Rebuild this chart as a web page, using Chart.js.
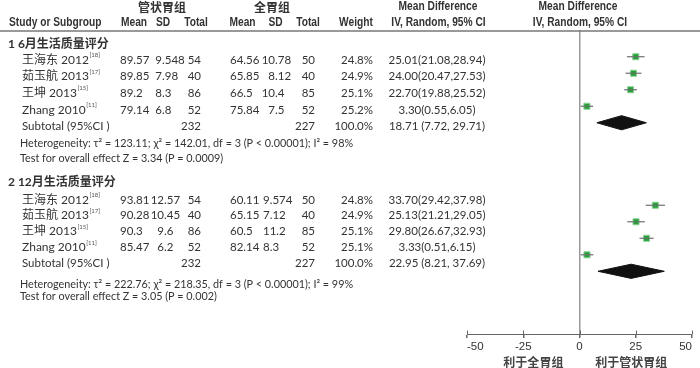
<!DOCTYPE html>
<html>
<head>
<meta charset="utf-8">
<script src="https://cdn.jsdelivr.net/npm/chart.js@4.4.1/dist/chart.umd.min.js"></script>
<style>
  html, body { margin: 0; padding: 0; background: #fff; }
  #wrap { width: 700px; height: 368px; }
</style>
</head>
<body>
<div id="wrap"><canvas id="forest" width="700" height="368"></canvas></div>
<script>
// Study labels
const studies = ['王海东 2012', '茹玉航 2013', '王坤 2013', 'Zhang 2010'];
const refs = ['[18]', '[17]', '[15]', '[11]'];
const groupTitles = ['1 6月生活质量评分', '2 12月生活质量评分'];

// 6 month scores: 管状胃组 (exp) vs 全胃组 (ctl)
const expMean6 = [89.57, 89.85, 89.2, 79.14];
const expSd6 = [9.548, 7.98, 8.3, 6.8];
const expN6 = [54, 40, 86, 52];
const ctlMean6 = [64.56, 65.85, 66.5, 75.84];
const ctlSd6 = [10.78, 8.12, 10.4, 7.5];
const ctlN6 = [50, 40, 85, 52];
const weight6 = [24.8, 24.9, 25.1, 25.2];
const md6 = [25.01, 24.00, 22.70, 3.30];
const lo6 = [21.08, 20.47, 19.88, 0.55];
const hi6 = [28.94, 27.53, 25.52, 6.05];
const sub6 = [18.71, 7.72, 29.71]; // estimate, lower, upper
const het6 = 'Heterogeneity: τ² = 123.11; χ² = 142.01, df = 3 (P < 0.00001); I² = 98%';
const test6 = 'Test for overall effect Z = 3.34 (P = 0.0009)';

// 12 month scores
const expMean12 = [93.81, 90.28, 90.3, 85.47];
const expSd12 = [12.57, 10.45, 9.6, 6.2];
const expN12 = [54, 40, 86, 52];
const ctlMean12 = [60.11, 65.15, 60.5, 82.14];
const ctlSd12 = [9.574, 7.12, 11.2, 8.3];
const ctlN12 = [50, 40, 85, 52];
const weight12 = [24.8, 24.9, 25.1, 25.1];
const md12 = [33.70, 25.13, 29.80, 3.33];
const lo12 = [29.42, 21.21, 26.67, 0.51];
const hi12 = [37.98, 29.05, 32.93, 6.15];
const sub12 = [22.95, 8.21, 37.69];
const het12 = 'Heterogeneity: τ² = 222.76; χ² = 218.35, df = 3 (P < 0.00001); I² = 99%';
const test12 = 'Test for overall effect Z = 3.05 (P = 0.002)';

// row positions on the y scale
const rows6 = [1, 2, 3, 4];
const subRow6 = 5;
const rows12 = [10, 11, 12, 13];
const subRow12 = 14;

const xTicks = [-50, -25, 0, 25, 50];

const BODY = "11.5px Lato, 'Noto Sans CJK SC', sans-serif";
const SMALL = "10.8px Lato, 'Noto Sans CJK SC', sans-serif";
const NAME = "12px Lato, 'Noto Sans CJK SC', sans-serif";
const HEAD = "bold 12px 'Liberation Sans', Arial, sans-serif";
const HEAD_CJK = "bold 12px 'Noto Sans CJK SC', sans-serif";
const TITLE = "bold 12px Lato, 'Noto Sans CJK SC', sans-serif";
const SUP = "6px Lato, sans-serif";
const TXT = '#333';

const ciText = (m, l, h) => `${m.toFixed(2)}(${l.toFixed(2)},${h.toFixed(2)})`;

// CI whiskers, one line dataset each
const whiskers = (md, lo, hi, rows) => md.map((m, i) => ({
  data: [{ x: lo[i], y: rows[i] }, { x: hi[i], y: rows[i] }],
  showLine: true,
  borderColor: '#6f6f6f',
  borderWidth: 1.2,
  pointRadius: 0
}));

const squares = (md, rows) => ({
  data: md.map((m, i) => ({ x: m, y: rows[i] })),
  pointStyle: 'rect',
  pointRadius: 4.3,
  backgroundColor: '#22a236',
  borderColor: '#8fd39a',
  borderWidth: 1
});

const diamond = (sub, row) => ({
  data: [
    { x: sub[1], y: row },
    { x: sub[0], y: row - 0.43 },
    { x: sub[2], y: row },
    { x: sub[0], y: row + 0.43 },
    { x: sub[1], y: row }
  ],
  showLine: true,
  fill: 'shape',
  backgroundColor: '#111',
  borderColor: '#111',
  borderWidth: 1,
  pointRadius: 0,
  tension: 0
});

const text = (ctx, s, x, y, align, font, color) => {
  ctx.font = font;
  ctx.fillStyle = color || TXT;
  ctx.textAlign = align;
  ctx.textBaseline = 'middle';
  ctx.fillText(s, x, y);
};

// narrow bold header text (squeezed horizontally)
const headText = (ctx, s, x, y, align) => {
  ctx.save();
  ctx.translate(x, y);
  ctx.scale(0.85, 1);
  text(ctx, s, 0, 0, align, HEAD);
  ctx.restore();
};

// number aligned on its decimal point
const decText = (ctx, v, x, y) => {
  const s = String(v);
  const p = s.indexOf('.');
  const intPart = p < 0 ? s : s.slice(0, p);
  const rest = p < 0 ? '' : s.slice(p);
  text(ctx, intPart, x, y, 'right', BODY);
  text(ctx, rest, x, y, 'left', BODY);
};

const drawGroup = (ctx, g) => {
  text(ctx, g.title, 8, g.titleY, 'left', TITLE);
  studies.forEach((name, i) => {
    const y = g.rowY[i];
    text(ctx, name, 22, y, 'left', NAME);
    ctx.font = NAME;
    const w = ctx.measureText(name).width;
    text(ctx, refs[i], 22 + w + 0.5, y - 4.5, 'left', SUP, '#555');
    text(ctx, String(g.em[i]), 120, y, 'left', BODY);
    decText(ctx, g.es[i], g.sd1X, y);
    text(ctx, String(g.en[i]), 201, y, 'right', BODY);
    text(ctx, String(g.cm[i]), 230, y, 'left', BODY);
    if (g.sd2Dec) decText(ctx, g.cs[i], g.sd2X, y);
    else text(ctx, String(g.cs[i]), g.sd2X, y, 'left', BODY);
    text(ctx, String(g.cn[i]), 315, y, 'right', BODY);
    text(ctx, g.w[i].toFixed(1) + '%', 373, y, 'right', BODY);
    text(ctx, ciText(g.md[i], g.lo[i], g.hi[i]), 437, y, 'center', BODY);
  });
  const sy = g.subY;
  const sum = a => a.reduce((s, v) => s + v, 0);
  text(ctx, 'Subtotal (95%CI )', 22, sy, 'left', BODY);
  text(ctx, String(sum(g.en)), 201, sy, 'right', BODY);
  text(ctx, String(sum(g.cn)), 315, sy, 'right', BODY);
  text(ctx, '100.0%', 373, sy, 'right', BODY);
  text(ctx, `${g.sub[0].toFixed(2)} (${g.sub[1].toFixed(2)}, ${g.sub[2].toFixed(2)})`, 437, sy, 'center', BODY);
  text(ctx, g.het, 20, g.hetY, 'left', SMALL);
  text(ctx, g.test, 20, g.testY, 'left', SMALL);
};

const tablePlugin = {
  id: 'table',
  afterDraw(chart) {
    const ctx = chart.ctx;
    ctx.save();
    // header
    text(ctx, '管状胃组', 162, 7, 'center', HEAD_CJK);
    text(ctx, '全胃组', 272, 7, 'center', HEAD_CJK);
    headText(ctx, 'Mean Difference', 438, 7, 'center');
    headText(ctx, 'Mean Difference', 578, 7, 'center');
    headText(ctx, 'Study or Subgroup', 9, 22.5, 'left');
    headText(ctx, 'Mean', 134, 22.5, 'center');
    headText(ctx, 'SD', 163, 22.5, 'center');
    headText(ctx, 'Total', 196, 22.5, 'center');
    headText(ctx, 'Mean', 242.5, 22.5, 'center');
    headText(ctx, 'SD', 275.5, 22.5, 'center');
    headText(ctx, 'Total', 308, 22.5, 'center');
    headText(ctx, 'Weight', 356, 22.5, 'center');
    headText(ctx, 'IV, Random, 95% CI', 438.5, 22.5, 'center');
    headText(ctx, 'IV, Random, 95% CI', 580, 22.5, 'center');
    ctx.strokeStyle = '#777';
    ctx.lineWidth = 1.5;
    ctx.beginPath();
    ctx.moveTo(0, 31);
    ctx.lineTo(700, 31);
    ctx.stroke();

    drawGroup(ctx, {
      title: groupTitles[0], titleY: 44, rowY: [60, 76.5, 93, 110], subY: 126, hetY: 143.5, testY: 159,
      em: expMean6, es: expSd6, en: expN6, cm: ctlMean6, cs: ctlSd6, cn: ctlN6,
      sd1X: 162, sd2X: 275, sd2Dec: true,
      w: weight6, md: md6, lo: lo6, hi: hi6, sub: sub6, het: het6, test: test6
    });
    drawGroup(ctx, {
      title: groupTitles[1], titleY: 182, rowY: [200, 215.5, 231.5, 247.5], subY: 263.5, hetY: 285, testY: 296.5,
      em: expMean12, es: expSd12, en: expN12, cm: ctlMean12, cs: ctlSd12, cn: ctlN12,
      sd1X: 164, sd2X: 263, sd2Dec: false,
      w: weight12, md: md12, lo: lo12, hi: hi12, sub: sub12, het: het12, test: test12
    });

    // upper half of the x axis ticks
    const xs = chart.scales.x;
    const yAxis = chart.chartArea.bottom;
    ctx.strokeStyle = '#666';
    ctx.lineWidth = 1;
    xTicks.forEach(v => {
      const px = Math.round(xs.getPixelForValue(v)) + 0.5;
      ctx.beginPath();
      ctx.moveTo(px, yAxis - 3.5);
      ctx.lineTo(px, yAxis);
      ctx.stroke();
    });
    // favours labels
    const favFont = "bold 12px 'Noto Sans CJK SC', sans-serif";
    text(ctx, '利于全胃组', xs.getPixelForValue(-20.5), 362, 'center', favFont, '#444');
    text(ctx, '利于管状胃组', xs.getPixelForValue(23), 362, 'center', favFont, '#444');
    ctx.restore();
  }
};

new Chart(document.getElementById('forest'), {
  type: 'scatter',
  data: {
    datasets: [
      ...whiskers(md6, lo6, hi6, rows6),
      ...whiskers(md12, lo12, hi12, rows12),
      squares(md6, rows6),
      squares(md12, rows12),
      diamond(sub6, subRow6),
      diamond(sub12, subRow12)
    ]
  },
  options: {
    responsive: false,
    devicePixelRatio: 1,
    animation: false,
    events: [],
    layout: { padding: { left: 467, right: 8, top: 30, bottom: 14 } },
    plugins: { legend: { display: false }, tooltip: { enabled: false } },
    scales: {
      x: {
        type: 'linear',
        min: -50,
        max: 50,
        afterBuildTicks: (s) => { s.ticks = xTicks.map(v => ({ value: v })); },
        afterFit: (s) => { s.height = 20; },
        border: { color: '#666', width: 1 },
        grid: {
          color: (c) => (c.tick && c.tick.value === 0 ? '#999' : 'rgba(0,0,0,0)'),
          lineWidth: 1.5,
          tickColor: '#666',
          tickLength: 4,
          drawOnChartArea: true
        },
        ticks: {
          align: 'inner',
          color: '#333',
          padding: 2,
          maxRotation: 0,
          font: { family: "'Liberation Sans', Arial, sans-serif", size: 11.5 }
        }
      },
      y: {
        type: 'linear',
        display: false,
        reverse: true,
        min: -0.62,
        max: 17.8
      }
    }
  },
  plugins: [tablePlugin]
});
</script>
</body>
</html>
